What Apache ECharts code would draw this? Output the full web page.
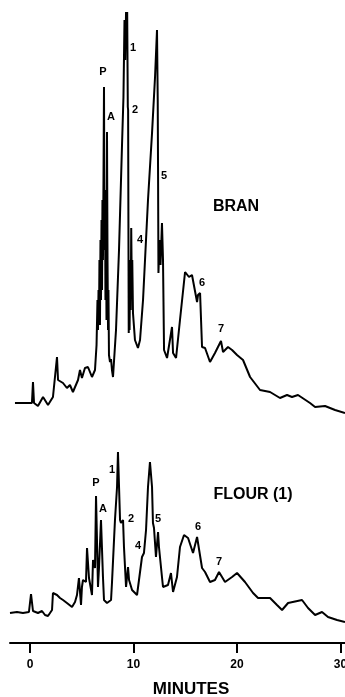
<!DOCTYPE html>
<html><head><meta charset="utf-8">
<script src="https://cdn.jsdelivr.net/npm/echarts@6/dist/echarts.min.js"></script>
<style>html,body{margin:0;padding:0;background:#fff}#c{width:345px;height:697px}</style>
</head><body><div id="c"></div>
<script>
// Bran chromatogram: time (min) and detector response (relative units)
const branTime = [-1.45,0.19,0.29,0.39,0.77,1.26,1.74,2.22,2.61,2.71,3.19,3.57,3.86,4.15,4.64,4.83,5.02,5.31,5.60,5.99,6.28,6.43,6.52,6.57,6.62,6.67,6.71,6.76,6.81,6.86,6.91,6.96,7.00,7.05,7.10,7.15,7.20,7.25,7.29,7.34,7.39,7.44,7.49,7.54,7.58,7.63,7.73,7.83,7.92,8.02,8.31,8.60,8.89,9.03,9.13,9.20,9.28,9.34,9.39,9.45,9.48,9.51,9.54,9.58,9.62,9.68,9.73,9.78,9.84,9.88,9.95,10.14,10.43,10.63,10.92,11.40,11.79,12.08,12.27,12.34,12.37,12.41,12.51,12.61,12.75,12.85,12.95,13.24,13.33,13.72,13.82,14.11,14.49,14.98,15.17,15.36,15.65,15.75,16.14,16.23,16.43,16.62,16.91,17.39,17.87,18.45,18.65,19.13,19.52,20.00,20.58,21.26,22.22,23.19,24.15,24.83,25.31,25.89,27.05,27.54,28.50,29.47,30.43];
const branSignal = [0.5,0.5,5.75,0.5,-0.25,2,0,2,12,6.25,5.5,4.25,5,3.25,6.25,8.75,6.75,9.25,9.5,7,8.75,15,26.25,18.75,28.75,21.25,36.25,20,41.25,26.25,46.25,28.75,51.25,36.25,56.25,79.5,38.75,53.75,26.25,48.75,21.25,68.25,36.25,18.75,28.75,12.5,10.75,11.5,8.75,7,18.75,38.75,65,77,96.25,86.25,98.25,91.25,98.25,74.5,73.75,43.75,18,28.75,18.75,36.25,23.75,44.25,28.75,36.25,23,16.25,14.25,16.25,26.25,51.25,68,82,93.75,76.25,59.5,33,41.25,35,45.5,36.25,13.75,11.75,11.25,19.5,13,11.75,21.25,33.25,33,32,32.5,32,25.75,27.5,28,14.5,14.25,10.75,13,16,13.25,14.5,13.75,12.5,11.25,7,3.75,3.25,1.75,2.5,2,2.5,0.5,-0.5,-0.25,-1.25,-2];

// Flour (1) chromatogram
const flourTime = [-1.93,-1.26,-0.68,-0.10,0.10,0.29,0.77,1.16,1.45,1.74,2.13,2.22,2.61,2.90,3.19,3.57,3.67,4.06,4.35,4.54,4.73,4.93,5.02,5.12,5.41,5.51,5.70,5.99,6.09,6.28,6.38,6.57,6.67,6.86,7.05,7.15,7.44,7.83,7.92,8.21,8.41,8.50,8.70,8.79,8.99,9.08,9.28,9.47,9.57,9.86,10.34,10.53,10.82,11.01,11.21,11.40,11.59,11.79,11.88,11.98,12.17,12.37,12.46,12.75,12.85,13.33,13.62,13.82,14.20,14.49,14.88,15.27,15.75,16.14,16.23,16.62,16.91,17.39,17.87,18.26,18.84,19.52,20.00,20.77,21.55,22.03,23.19,23.86,24.35,24.93,26.28,26.86,27.54,28.21,28.79,29.66,30.43];
const flourSignal = [0,0.25,0,0.25,4.75,0.5,0,0.5,-0.5,-0.75,0.75,5,4.5,3.75,3.25,2.5,3,1.5,2.75,4.5,8.75,2,6.5,8.25,7.75,16.25,8.75,4.5,13.25,11.25,29.25,6.5,11.5,23.25,9,3.25,2.5,3.25,7.5,23.25,31.5,40.25,23.25,22.5,23.25,16.5,6.5,11.5,8.25,5.75,4.5,8.25,14,15,20.75,31.5,37.75,31.5,22.5,21.25,14,20.25,16.5,9,6.5,7,10,5.25,9,16.5,19.5,18.75,15,19,19,11.25,10.25,7.75,8.25,10.25,7.75,9,10,7.75,5,3.75,3.75,2,0.75,2.5,3.25,1.25,-0.5,0.25,-1,-1.75,-2.25];

// Peak labels: name, time, response
const branPeakNames = ['P','A','1','2','4','5','6','7'];
const branPeakTime = [7.05,7.83,9.95,10.14,10.63,12.95,16.62,18.45];
const branPeakSignal = [83.25,72,89.25,73.75,41.25,57.25,30.5,19];
const flourPeakNames = ['P','A','1','2','4','5','6','7'];
const flourPeakTime = [6.38,7.05,7.92,9.76,10.43,12.37,16.23,18.26];
const flourPeakSignal = [32.5,26,35.75,23.5,16.75,23.5,21.5,12.75];

const tickValues = [0,10,20,30];
const xMin = -1.93, xMax = 30.43;

const zip = (a,b) => a.map((t,i)=>[t,b[i]]);
const lbl = (n,t,v) => n.map((s,i)=>({name:s,value:[t[i],v[i]]}));
const FONT = '"Liberation Sans", Arial, sans-serif';
const INK = '#000';

const chart = echarts.init(document.getElementById('c'), null, {renderer:'canvas'});
const peakLabelSeries = (idx, data) => ({
  type:'scatter', xAxisIndex:idx, yAxisIndex:idx, symbolSize:1, silent:true,
  itemStyle:{opacity:0},
  data:data,
  label:{show:true, position:'inside', formatter:p=>p.name, color:INK, opacity:1, fontFamily:FONT, fontSize:11, fontWeight:'bold'}
});
chart.setOption({
  animation:false,
  backgroundColor:'#fff',
  grid:[
    {left:10, right:0, top:5, height:412, containLabel:false, outerBoundsMode:'none'},
    {left:10, right:0, top:433, height:210, containLabel:false, outerBoundsMode:'none'}
  ],
  xAxis:[
    {gridIndex:0, type:'value', min:xMin, max:xMax, show:false},
    {gridIndex:1, type:'value', min:xMin, max:xMax,
      axisLine:{show:true, onZero:false, lineStyle:{color:INK, width:2}},
      axisTick:{show:true, customValues:tickValues, length:10, lineStyle:{color:INK, width:2}},
      axisLabel:{show:true, customValues:tickValues, margin:16, color:INK, fontFamily:FONT, fontSize:12, fontWeight:'bold', alignMaxLabel:'center', alignMinLabel:'center'},
      splitLine:{show:false}}
  ],
  yAxis:[
    {gridIndex:0, type:'value', min:-3, max:100, show:false},
    {gridIndex:1, type:'value', min:-7.5, max:45, show:false}
  ],
  series:[
    {type:'line', xAxisIndex:0, yAxisIndex:0, data:zip(branTime,branSignal), showSymbol:false, symbol:'none',
      lineStyle:{color:INK, width:2}, clip:false},
    {type:'line', xAxisIndex:1, yAxisIndex:1, data:zip(flourTime,flourSignal), showSymbol:false, symbol:'none',
      lineStyle:{color:INK, width:2}, clip:false},
    peakLabelSeries(0, lbl(branPeakNames,branPeakTime,branPeakSignal)),
    peakLabelSeries(1, lbl(flourPeakNames,flourPeakTime,flourPeakSignal))
  ],
  graphic:[
    {type:'text', x:236, y:207, style:{text:'BRAN', fill:INK, font:'bold 16px '+FONT, align:'center', verticalAlign:'middle'}},
    {type:'text', x:253, y:495, style:{text:'FLOUR (1)', fill:INK, font:'bold 16px '+FONT, align:'center', verticalAlign:'middle'}},
    {type:'text', x:191, y:689, style:{text:'MINUTES', fill:INK, font:'bold 17px '+FONT, align:'center', verticalAlign:'middle'}}
  ]
});
</script></body></html>
